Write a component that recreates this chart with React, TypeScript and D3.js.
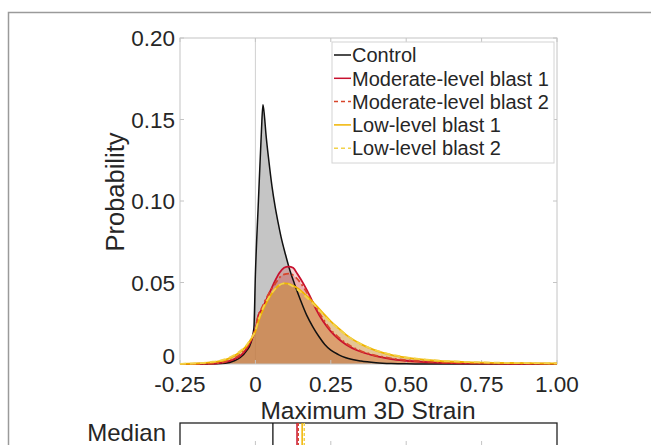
import React, { useEffect, useRef } from "react";
import { select, scaleLinear, line, area, curveMonotoneX } from "d3";

// strain grid for the control curve (sharp peak needs its own points)
const controlStrain = [
  -0.25, -0.15, -0.1, -0.07, -0.05, -0.03, -0.015, -0.005, 0, 0.01, 0.02, 0.025,
  0.03, 0.035, 0.045, 0.055, 0.065, 0.075, 0.085, 0.1, 0.115, 0.13, 0.15, 0.17,
  0.19, 0.21, 0.23, 0.25, 0.275, 0.3, 0.35, 0.4, 0.45, 0.5, 0.6, 0.8, 1.0,
];
const controlProb = [
  0, 0, 0.0005, 0.002, 0.004, 0.008, 0.013, 0.022, 0.055, 0.1, 0.143, 0.159,
  0.152, 0.141, 0.124, 0.109, 0.097, 0.087, 0.078, 0.067, 0.057, 0.049, 0.039, 0.03,
  0.023, 0.017, 0.012, 0.0085, 0.0058, 0.0038, 0.0018, 0.0008, 0.0003, 0.0001, 0, 0, 0,
];

const blastStrain = [
  -0.25, -0.2, -0.15, -0.1, -0.07, -0.05, -0.03, -0.015, 0, 0.01, 0.02, 0.035,
  0.05, 0.065, 0.08, 0.095, 0.11, 0.125, 0.14, 0.16, 0.18, 0.2, 0.225, 0.25,
  0.275, 0.3, 0.35, 0.4, 0.45, 0.5, 0.6, 0.7, 0.8, 0.9, 1.0,
];
const moderate1Prob = [
  0, 0, 0.0002, 0.0012, 0.003, 0.005, 0.009, 0.014, 0.021, 0.03, 0.033, 0.039,
  0.045, 0.051, 0.056, 0.059, 0.0598, 0.059, 0.055, 0.049, 0.042, 0.034, 0.026, 0.02,
  0.0155, 0.012, 0.0075, 0.0048, 0.003, 0.002, 0.0008, 0.0004, 0.0002, 0.0001, 0.0001,
];
const moderate2Prob = [
  0, 0.0001, 0.0003, 0.0015, 0.0035, 0.006, 0.01, 0.015, 0.022, 0.03, 0.034, 0.04,
  0.045, 0.049, 0.053, 0.055, 0.0555, 0.0545, 0.052, 0.047, 0.041, 0.035, 0.0275, 0.021,
  0.0165, 0.0128, 0.008, 0.0052, 0.0035, 0.0024, 0.0012, 0.0007, 0.0004, 0.0003, 0.0002,
];
const low1Prob = [
  0.0001, 0.0003, 0.001, 0.0025, 0.005, 0.0075, 0.011, 0.015, 0.02, 0.026, 0.031, 0.037,
  0.042, 0.046, 0.0485, 0.0495, 0.0493, 0.048, 0.0465, 0.0435, 0.04, 0.0362, 0.031, 0.0262,
  0.022, 0.018, 0.0122, 0.0082, 0.0056, 0.0039, 0.002, 0.0011, 0.0007, 0.0005, 0.0003,
];
const low2Prob = [
  0.0001, 0.0004, 0.0012, 0.003, 0.0055, 0.008, 0.0115, 0.0155, 0.0205, 0.027, 0.032, 0.038,
  0.0425, 0.046, 0.0485, 0.0495, 0.049, 0.0475, 0.0455, 0.0425, 0.039, 0.0352, 0.0302, 0.0256,
  0.0215, 0.0178, 0.0122, 0.0084, 0.0058, 0.0041, 0.0022, 0.0013, 0.0008, 0.0006, 0.0004,
];

const seriesNames = [
  "Control",
  "Moderate-level blast 1",
  "Moderate-level blast 2",
  "Low-level blast 1",
  "Low-level blast 2",
];
const medianValues = [0.058, 0.138, 0.142, 0.155, 0.162];

const xTicks = [-0.25, 0, 0.25, 0.5, 0.75, 1.0];
const xTickLabels = ["-0.25", "0", "0.25", "0.50", "0.75", "1.00"];
const yTicks = [0, 0.05, 0.1, 0.15, 0.2];
const yTickLabels = ["0", "0.05", "0.10", "0.15", "0.20"];

const styles = [
  { stroke: "#111111", dash: null, fill: "#8c8c8c", fillOpacity: 0.5, width: 1.5 },
  { stroke: "#c8102e", dash: null, fill: "#d04440", fillOpacity: 0.24, width: 1.8 },
  { stroke: "#d8452b", dash: "6,3,2,3", fill: "#d04440", fillOpacity: 0.24, width: 1.8 },
  { stroke: "#f0b400", dash: null, fill: "#d09038", fillOpacity: 0.31, width: 1.8 },
  { stroke: "#f2d24a", dash: "6,4", fill: "#d09038", fillOpacity: 0.31, width: 1.8 },
];

const FONT = "'Liberation Sans', Arial, Helvetica, sans-serif";

const App = () => {
  const svgRef = useRef(null);

  useEffect(() => {
    const svg = select(svgRef.current);
    svg.selectAll("*").remove();

    const plot = { left: 180, right: 557, top: 38, bottom: 364 };
    const x = scaleLinear().domain([-0.25, 1.0]).range([plot.left, plot.right]);
    const y = scaleLinear().domain([0, 0.2]).range([plot.bottom, plot.top]);

    const series = [
      controlStrain.map((s, i) => [s, controlProb[i]]),
      blastStrain.map((s, i) => [s, moderate1Prob[i]]),
      blastStrain.map((s, i) => [s, moderate2Prob[i]]),
      blastStrain.map((s, i) => [s, low1Prob[i]]),
      blastStrain.map((s, i) => [s, low2Prob[i]]),
    ];

    // outer frame
    svg
      .append("path")
      .attr("d", "M8.5,460 V12.5 H660")
      .attr("fill", "none")
      .attr("stroke", "#9a9a9a")
      .attr("stroke-width", 1.5);

    // zero line
    svg
      .append("line")
      .attr("x1", x(0))
      .attr("x2", x(0))
      .attr("y1", plot.top)
      .attr("y2", plot.bottom)
      .attr("stroke", "#d0d0d0")
      .attr("stroke-width", 1);

    const areaGen = area()
      .x((d) => x(d[0]))
      .y0(y(0))
      .y1((d) => y(d[1]))
      .curve(curveMonotoneX);
    const lineGen = line()
      .x((d) => x(d[0]))
      .y((d) => y(d[1]))
      .curve(curveMonotoneX);

    series.forEach((d, i) => {
      svg
        .append("path")
        .attr("d", areaGen(d))
        .attr("fill", styles[i].fill)
        .attr("fill-opacity", styles[i].fillOpacity);
    });

    // box + ticks
    svg
      .append("rect")
      .attr("x", plot.left)
      .attr("y", plot.top)
      .attr("width", plot.right - plot.left)
      .attr("height", plot.bottom - plot.top)
      .attr("fill", "none")
      .attr("stroke", "#c4c4c4")
      .attr("stroke-width", 1);

    const tickLen = 4;
    xTicks.forEach((t) => {
      svg.append("line").attr("x1", x(t)).attr("x2", x(t))
        .attr("y1", plot.top).attr("y2", plot.top + tickLen)
        .attr("stroke", "#c4c4c4");
      svg.append("line").attr("x1", x(t)).attr("x2", x(t))
        .attr("y1", plot.bottom).attr("y2", plot.bottom - tickLen)
        .attr("stroke", "#c4c4c4");
    });
    yTicks.forEach((t) => {
      svg.append("line").attr("x1", plot.left).attr("x2", plot.left + tickLen)
        .attr("y1", y(t)).attr("y2", y(t)).attr("stroke", "#c4c4c4");
      svg.append("line").attr("x1", plot.right).attr("x2", plot.right - tickLen)
        .attr("y1", y(t)).attr("y2", y(t)).attr("stroke", "#c4c4c4");
    });

    series.forEach((d, i) => {
      svg
        .append("path")
        .attr("d", lineGen(d))
        .attr("fill", "none")
        .attr("stroke", styles[i].stroke)
        .attr("stroke-width", styles[i].width)
        .attr("stroke-dasharray", styles[i].dash);
    });

    // tick labels ("0" sits just above the baseline, clear of the x labels)
    svg
      .append("g")
      .selectAll("text")
      .data(yTicks)
      .join("text")
      .attr("x", plot.left - 5)
      .attr("y", (d) => (d === 0 ? y(d) : y(d) + 8))
      .attr("text-anchor", "end")
      .attr("font-family", FONT)
      .attr("font-size", 22.5)
      .attr("fill", "#262626")
      .text((d, i) => yTickLabels[i]);

    svg
      .append("g")
      .selectAll("text")
      .data(xTicks)
      .join("text")
      .attr("x", (d) => x(d))
      .attr("y", 392)
      .attr("text-anchor", "middle")
      .attr("font-family", FONT)
      .attr("font-size", 22.5)
      .attr("fill", "#262626")
      .text((d, i) => xTickLabels[i]);

    svg
      .append("text")
      .attr("x", 368)
      .attr("y", 419)
      .attr("text-anchor", "middle")
      .attr("font-family", FONT)
      .attr("font-size", 24.5)
      .attr("fill", "#262626")
      .text("Maximum 3D Strain");

    svg
      .append("text")
      .attr("transform", "translate(124,192) rotate(-90)")
      .attr("text-anchor", "middle")
      .attr("font-family", FONT)
      .attr("font-size", 25.5)
      .attr("fill", "#262626")
      .text("Probability");

    // legend
    const lg = { x: 332, y: 42, w: 222, h: 121, row: 23.3 };
    svg
      .append("rect")
      .attr("x", lg.x)
      .attr("y", lg.y)
      .attr("width", lg.w)
      .attr("height", lg.h)
      .attr("fill", "#ffffff")
      .attr("stroke", "#d4d4d4");
    seriesNames.forEach((name, i) => {
      const cy = lg.y + 13 + i * lg.row;
      svg.append("line")
        .attr("x1", lg.x + 2).attr("x2", lg.x + 19)
        .attr("y1", cy).attr("y2", cy)
        .attr("stroke", styles[i].stroke)
        .attr("stroke-width", 1.5)
        .attr("stroke-dasharray", styles[i].dash ? "4,3" : null);
      svg.append("text")
        .attr("x", lg.x + 20)
        .attr("y", cy)
        .attr("dy", "0.36em")
        .attr("font-family", FONT)
        .attr("font-size", 20)
        .attr("fill", "#262626")
        .text(name);
    });

    // median strip
    const med = { top: 423, bottom: 470 };
    svg
      .append("rect")
      .attr("x", plot.left)
      .attr("y", med.top)
      .attr("width", plot.right - plot.left)
      .attr("height", med.bottom - med.top)
      .attr("fill", "#ffffff")
      .attr("stroke", "#222222")
      .attr("stroke-width", 1.3);
    xTicks.slice(1, -1).forEach((t) => {
      svg.append("line").attr("x1", x(t)).attr("x2", x(t))
        .attr("y1", 445).attr("y2", 441).attr("stroke", "#c4c4c4");
    });
    medianValues.forEach((m, i) => {
      svg.append("line")
        .attr("x1", x(m)).attr("x2", x(m))
        .attr("y1", med.top).attr("y2", med.bottom)
        .attr("stroke", styles[i].stroke)
        .attr("stroke-width", i === 0 ? 1.3 : 1.5)
        .attr("stroke-dasharray", styles[i].dash ? "3,2" : null);
    });
    svg
      .append("text")
      .attr("x", 166)
      .attr("y", 441)
      .attr("text-anchor", "end")
      .attr("font-family", FONT)
      .attr("font-size", 24)
      .attr("fill", "#262626")
      .text("Median");
  }, []);

  return (
    <div style={{ position: "absolute", left: 0, top: 0 }}>
      <svg width={651} height={445} ref={svgRef} style={{ display: "block", background: "#fff" }}></svg>
    </div>
  );
};

export default App;
